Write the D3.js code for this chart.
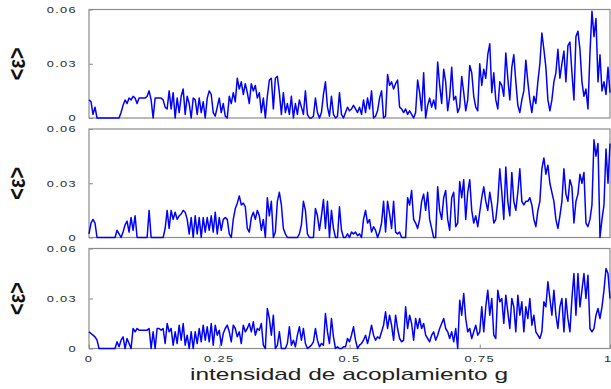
<!DOCTYPE html>
<html>
<head>
<meta charset="utf-8">
<script src="https://cdn.jsdelivr.net/npm/d3@7"></script>
<style>
  body { margin: 0; background: #fff; }
  svg { display: block; font-family: "Liberation Sans", Arial, sans-serif; }
</style>
</head>
<body>
<svg width="611" height="389"></svg>
<script>
var eps1 = [10,9,2,6,0,0,0,0,0,0,0,0,0,0,0,0,
  3,7,10,8,11,10,12,11,8,11,11,11,11,12,15,10,0,11,11,11,
  11,10,6,5,15,5,14,0,11,3,12,16,2,12,8,0,11,10,2,11,
  3,9,0,11,15,13,3,1,6,11,3,8,1,0,12,8,14,9,22,16,
  20,13,19,14,8,19,15,18,11,14,3,11,0,12,21,22,5,22,23,14,
  2,14,3,8,2,12,0,8,2,10,6,2,15,2,0,0,1,11,3,0,
  3,13,20,6,1,12,2,0,1,14,2,0,3,6,4,5,7,5,3,6,
  2,10,3,11,5,15,0,1,4,11,15,0,1,24,18,20,16,19,21,6,
  5,3,5,2,4,2,0,3,21,14,4,25,0,7,11,6,10,5,31,18,
  8,27,20,4,12,28,10,12,3,6,23,14,4,10,29,25,12,6,4,30,
  18,27,22,35,41,14,25,10,5,20,18,12,36,22,10,28,35,20,7,3,
  10,15,32,20,10,3,12,8,20,30,47,38,28,10,4,10,20,25,38,22,
  30,37,20,40,42,25,10,45,48,38,20,12,16,5,36,59,45,55,20,35,
  15,20,13,28,14];

var eps2 = [2,8,10,8,0,0,0,0,0,0,0,0,0,0,4,2,
  0,3,7,9,3,11,4,12,0,0,0,0,0,0,15,0,0,0,0,0,
  0,0,5,15,5,15,10,14,10,12,13,15,14,10,2,11,0,12,2,11,
  0,11,3,11,4,12,3,14,2,11,4,10,11,10,2,0,10,16,19,23,
  18,19,17,5,3,11,14,10,15,12,4,10,0,22,12,20,0,3,20,25,
  18,5,2,0,0,0,0,0,0,2,7,20,15,2,0,0,0,16,12,4,
  12,21,5,20,0,15,5,0,0,17,4,0,0,2,0,3,2,3,1,2,
  0,10,15,8,10,3,6,4,0,3,8,20,3,20,13,5,20,3,2,3,
  0,0,0,22,18,26,10,8,5,10,20,24,15,25,10,5,0,0,28,15,
  10,22,26,10,4,22,25,6,8,31,22,32,10,25,32,15,8,12,6,14,
  22,28,20,15,25,18,8,10,20,38,25,10,39,20,12,36,20,15,25,38,
  20,18,20,20,22,18,10,6,15,20,38,44,35,40,30,25,20,10,5,12,
  20,38,24,20,32,28,8,20,24,35,30,36,8,6,10,18,54,45,52,0,
  10,18,49,30,52];

var eps3 = [10,9,8,7,5,0,0,0,0,0,0,0,0,0,4,1,
  5,7,0,6,3,0,12,10,12,11,11,11,11,11,12,0,10,0,12,12,
  11,12,3,15,10,12,2,10,3,14,5,15,2,8,0,10,0,10,3,12,
  4,14,5,13,4,15,2,14,8,11,2,9,12,14,10,4,14,12,7,10,
  3,14,10,12,15,10,16,8,12,11,15,2,0,24,18,8,20,0,2,10,
  0,0,0,3,13,2,5,1,8,13,5,12,3,0,1,2,4,12,5,1,
  3,2,21,10,3,18,7,0,1,0,0,1,1,6,4,8,13,5,0,2,
  3,5,8,3,8,14,8,5,7,6,10,14,22,12,20,14,5,20,12,6,
  4,5,25,12,20,15,5,18,12,18,12,15,8,6,4,8,10,5,8,12,
  15,18,12,10,6,10,4,12,0,29,20,33,18,10,12,6,10,14,8,10,
  25,10,25,35,20,30,8,6,35,28,30,15,32,22,12,30,25,10,32,20,
  28,10,25,18,30,14,20,10,8,6,10,28,25,40,30,20,35,20,12,25,
  30,10,30,18,10,30,45,20,45,25,35,45,30,44,12,10,12,20,24,18,
  25,35,48,45,30];

var yTicks = [0, 0.03, 0.06];
var yTickLabels = ["0", "0.03", "0.06"];
var xTicks = [0, 0.25, 0.5, 0.75, 1];
var xTickLabels = ["0", "0.25", "0.5", "0.75", "1"];
var xTitle = "intensidad de acoplamiento g";
var yTitle = "<\u03B5>";

var svg = d3.select("svg");
var stretch = 1.35; // the picture is wider than its text

var xScale = d3.scaleLinear().domain([0, 1]).range([89, 610]);

var panels = [
  { data: eps1, top: 9.5, bottom: 118 },
  { data: eps2, top: 129, bottom: 237.5 },
  { data: eps3, top: 248.5, bottom: 348.5 }
];

panels.forEach(function (p, k) {
  var yScale = d3.scaleLinear().domain([0, 0.06]).range([p.bottom, p.top]);
  var n = p.data.length;

  // frame
  svg.append("rect")
    .attr("x", xScale(0))
    .attr("y", p.top)
    .attr("width", xScale(1) - xScale(0))
    .attr("height", p.bottom - p.top)
    .attr("fill", "none")
    .attr("stroke", "#8c8c8c")
    .attr("stroke-width", 1.2);

  // inward y ticks
  var yAxis = d3.axisLeft(yScale).tickValues(yTicks).tickSize(-4).tickFormat("");
  var ga = svg.append("g").attr("transform", "translate(" + xScale(0) + ",0)").call(yAxis);
  ga.select(".domain").remove();
  ga.selectAll(".tick line").attr("stroke", "#8c8c8c");

  // y tick labels
  svg.append("g").selectAll("text")
    .data(yTicks)
    .enter()
    .append("text")
    .attr("transform", (d) => "translate(77," + yScale(d) + ") scale(" + stretch + ",1)")
    .attr("dy", "0.36em")
    .attr("text-anchor", "end")
    .attr("letter-spacing", 1)
    .style("font-size", "9.5px")
    .style("fill", "#2a2a2a")
    .text((d, i) => yTickLabels[i]);

  // y title
  svg.append("text")
    .attr("transform", "translate(16.5," + (p.top + p.bottom) / 2 + ") scale(1.2,1) rotate(-90)")
    .attr("dy", "0.35em")
    .attr("text-anchor", "middle")
    .style("font-size", "20px")
    .style("font-weight", "bold")
    .style("fill", "#111")
    .text(yTitle);

  // the curve
  var line = d3.line()
    .x((d, i) => xScale(i / (n - 1)))
    .y((d) => yScale(d / 1000));

  svg.append("path")
    .datum(p.data)
    .attr("d", line)
    .attr("fill", "none")
    .attr("stroke", "#0000ff")
    .attr("stroke-width", 1.5)
    .attr("stroke-linejoin", "round");

  // x ticks only on the bottom panel
  if (k == 2) {
    var xAxis = d3.axisBottom(xScale).tickValues(xTicks).tickSize(-4).tickFormat("");
    var gx = svg.append("g").attr("transform", "translate(0," + p.bottom + ")").call(xAxis);
    gx.select(".domain").remove();
    gx.selectAll(".tick line").attr("stroke", "#8c8c8c");

    svg.append("g").selectAll("text")
      .data(xTicks)
      .enter()
      .append("text")
      .attr("transform", (d) => "translate(" + Math.min(xScale(d), 604) + ",358.5) scale(" + stretch + ",1)")
      .attr("dy", "0.36em")
      .attr("text-anchor", (d) => d == 1 ? "start" : "middle")
      .attr("letter-spacing", 1)
      .style("font-size", "9.5px")
      .style("fill", "#2a2a2a")
      .text((d, i) => xTickLabels[i]);
  }
});

// x title
svg.append("text")
  .attr("x", 349)
  .attr("y", 380)
  .attr("text-anchor", "middle")
  .attr("textLength", 318)
  .attr("lengthAdjust", "spacingAndGlyphs")
  .style("font-size", "17px")
  .style("fill", "#222")
  .text(xTitle);
</script>
</body>
</html>
